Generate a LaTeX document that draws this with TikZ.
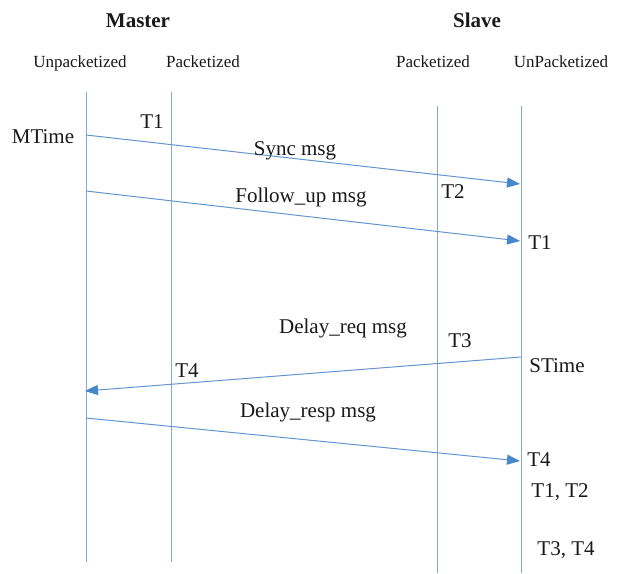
\documentclass[tikz,border=0pt]{standalone}
\usepackage{fontspec}
\setmainfont{Liberation Serif}
\usetikzlibrary{arrows.meta}
\definecolor{lifeblue}{RGB}{130,170,215}
\definecolor{msgblue}{RGB}{100,150,205}
\definecolor{headblue}{RGB}{70,135,205}
\definecolor{txt}{RGB}{25,25,25}
\tikzset{
  lifeline/.style={draw=lifeblue, line width=1pt},
  msgarrow/.style={draw=msgblue, line width=1pt, -{Triangle[length=13pt,width=10pt,color=headblue,fill=headblue]}},
  title/.style={anchor=base, inner sep=0pt, text=txt, font=\fontsize{21}{24}\selectfont\bfseries},
  collabel/.style={anchor=base, inner sep=0pt, text=txt, font=\fontsize{17}{20}\selectfont},
  lbl/.style={anchor=base, inner sep=0pt, text=txt, font=\fontsize{21}{24}\selectfont}
}
\begin{document}
\begin{tikzpicture}[x=1pt,y=-1pt]
\path[use as bounding box, fill=white] (0,0) rectangle (621,573);

% headers
\node[title] (master) at (138,27.5) {Master};
\node[title] (slave) at (477,27.5) {Slave};
\node[collabel] (mu) at (80,67) {Unpacketized};
\node[collabel] (mp) at (203,67) {Packetized};
\node[collabel] (sp) at (433,67) {Packetized};
\node[collabel] (su) at (561,67) {UnPacketized};

% lifelines
\coordinate (mu-top) at (86,92);
\coordinate (mu-bot) at (86,562);
\coordinate (mp-top) at (171,92);
\coordinate (mp-bot) at (171,562);
\coordinate (sp-top) at (437,106);
\coordinate (sp-bot) at (437,573);
\coordinate (su-top) at (521,106);
\coordinate (su-bot) at (521,573);
\draw[lifeline] (mu-top) -- (mu-bot);
\draw[lifeline] (mp-top) -- (mp-bot);
\draw[lifeline] (sp-top) -- (sp-bot);
\draw[lifeline] (su-top) -- (su-bot);

% message end points
\coordinate (sync-a) at (86,135);
\coordinate (sync-b) at (520,184);
\coordinate (fup-a) at (86,191);
\coordinate (fup-b) at (520,241);
\coordinate (dreq-a) at (521,357);
\coordinate (dreq-b) at (85,391);
\coordinate (dresp-a) at (86,418);
\coordinate (dresp-b) at (520,461);

\draw[msgarrow] (sync-a) -- (sync-b);
\draw[msgarrow] (fup-a) -- (fup-b);
\draw[msgarrow] (dreq-a) -- (dreq-b);
\draw[msgarrow] (dresp-a) -- (dresp-b);

% labels
\node[lbl] (mtime) at (43,143) {MTime};
\node[lbl] (t1m) at (152,128) {T1};
\node[lbl] (syncl) at (295,155) {Sync msg};
\node[lbl] (fupl) at (301,202) {Follow\_up msg};
\node[lbl] (t2) at (453,198) {T2};
\node[lbl] (t1s) at (540,249) {T1};
\node[lbl] (dreql) at (343,333) {Delay\_req msg};
\node[lbl] (t3) at (460,347) {T3};
\node[lbl] (stime) at (557,372) {STime};
\node[lbl] (t4m) at (187,377) {T4};
\node[lbl] (drespl) at (308,417) {Delay\_resp msg};
\node[lbl] (t4s) at (539,466) {T4};
\node[lbl] (t12) at (560,497) {T1, T2};
\node[lbl] (t34) at (566,555) {T3, T4};
\end{tikzpicture}
\end{document}
